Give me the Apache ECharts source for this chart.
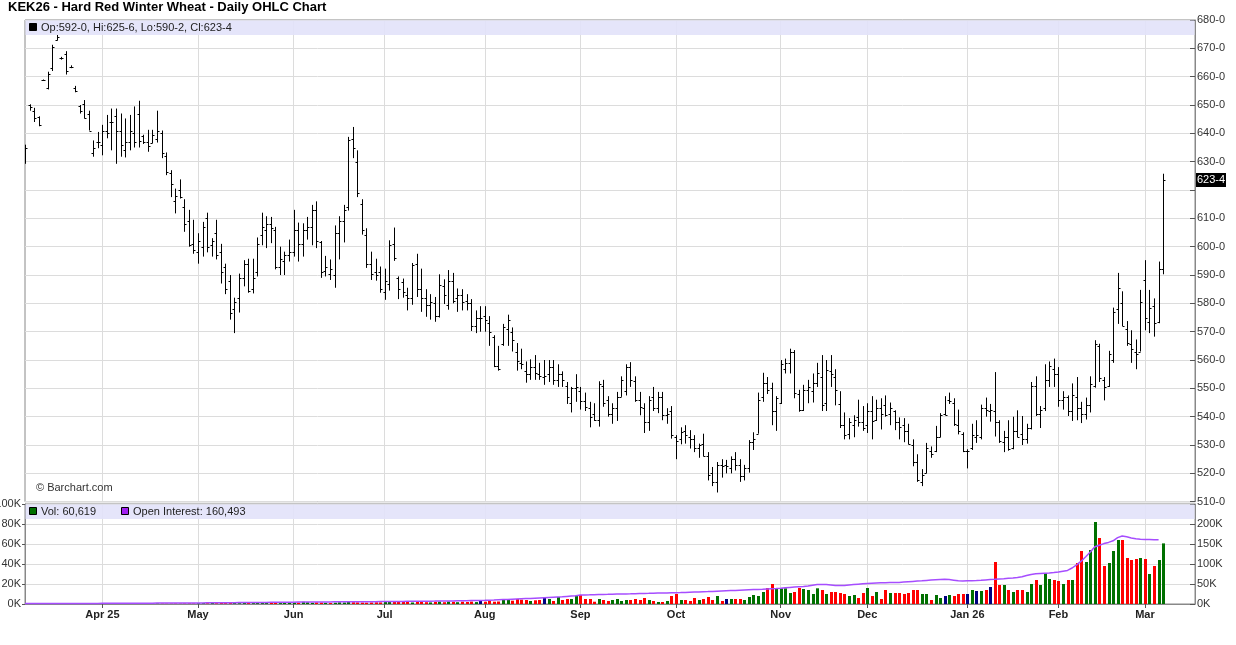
<!DOCTYPE html>
<html><head><meta charset="utf-8">
<script src="https://cdn.jsdelivr.net/npm/echarts@6/dist/echarts.min.js"></script>
<style>html,body{margin:0;padding:0;background:#fff}#c{width:1236px;height:645px}</style>
</head><body><div id="c"></div>
<script>
// ---- DATA (KEK26 Hard Red Winter Wheat, daily, cents) ----
const opens = [
631,650,648,645.75,658.75,656,663,673,666.5,668,
663.5,656,649.5,650.5,647,633,637,636,641,644,
646,641,634,637,640,647,639,637,636.5,638,
640,632,626,616,620,614,609,601,598,600,
610,600.5,605,598,593,588,578,582,589,594,
585,591,604,606,608,606,593,595,597,598,
606,601,606,607,613,601.5,591.5,590.5,590,605,
609,614,638,630,615,604,594,591,591,584,
587,601,589,587.5,583,582,594,585,582,579.5,
580,575.5,586,579.5,588,582,583,581,580,572,
575,575.5,573,568,558,565.5,571,570,563,559,
556,555,557.5,555,554,555,557.5,553,555,551,
545,550,549,545.5,543,541,539,551,546,541,
543,547,549,557.5,552.5,546,543,538,547,543,
547,540.5,542,533,532,535,533,532,529,530.5,
526,520,517,523,523,522,525,523,519,522,
531,534,547,552,550,542,545,557,559,563,
548,542.5,549.5,549,552,554,545,556,554,544.5,
537,534,537,540,538,537,542,539,543,544,
541,542,538,537,535,530,524,517,520,528,
528,533,541,546,545,537,534,528,529,533,
533,543,542,542,538,531,533,529,535,534,
532,536,551,541,543,553,557,555,546,547,
542,547,543,541,544,551,565,553,551,560,
578,580,571,565.75,563,563,588.25,573.5,579,573.5,
592];
const highs = [
636,650.25,649,646,659,661.75,671.25,674.75,667,669,
664,656.75,650,651.75,648,637.5,640.5,643,646.5,648.75,
648.75,647,645.25,646.5,649.5,651.5,639.5,641.25,641.25,648,
641,633.25,627,620.5,623.75,616.75,613,609.5,604.75,608.75,
612,603,609.5,601,594,590,582,590.5,595.25,595.75,
595.75,603.25,612,610.75,610.5,607,600,598.25,602.5,613,
608.5,608.25,610.5,614.75,616,602,596.75,595.5,607.5,610.75,
614.75,638.75,642.25,634,616.75,606.5,598.25,595.75,593,592.25,
602.25,606.75,589.5,588.75,585.5,594.25,597.5,592.25,585,583.25,
582.25,590.25,588.5,591.75,590.75,585.25,585,583.25,581.5,577.5,
579,579,575.5,568.75,565,572.75,576,571.5,566,564,
559.5,560.25,561.75,559,560,560,560,558.5,556,552.25,
550.5,555,550.5,548.5,545.25,544.75,552.5,553,547.25,544.75,
548.75,554.25,558.5,559.25,554.25,548.75,544.75,547.25,550.5,548.75,
548.75,543,543.75,533.5,536.25,537,535.25,533.5,530.5,534,
527.5,522.25,524,525,524.75,526,527.5,525,523,531.75,
534.5,548.5,555.5,554,552,547.25,560,560.5,564,563.5,
549.5,551.25,553,555.25,559,561.75,560,561.75,556.75,549,
541.5,539.5,540.5,546,543.75,544.75,547.25,546,546.5,547.5,
545,542.25,539.75,539.5,537.5,532,526.75,521.5,530.75,529.5,
536.75,541.25,547.25,548.5,546.5,542.5,534.5,528.5,537.5,538.75,
544.25,546.75,544.5,555.75,538.75,535,538.75,540,542.25,540.25,
537.5,552.25,554.25,543.75,558.5,559.5,560.5,557.5,549,547.5,
551.75,554,545.25,546.75,554.25,567,565.75,554,563.25,578.5,
590.75,584.25,573.75,570.5,567.25,584.75,595.25,584.75,581.75,594.75,
625.75];
const lows = [
629.25,648,644,642.5,658.5,655.5,662,672.75,666,660.75,
663,654.5,647,645.25,641,631.75,634.75,632.25,638.25,634,
629.25,631.75,631.5,634,635,635,636.25,633.5,636.5,636.75,
631.25,625.25,617.5,611.75,617,605.25,600,597.5,594,596.5,
598,596.5,595.5,587,583.25,574.25,569.5,576.75,586,583.75,
583.5,589.5,600.5,599.5,601.25,592,590,590,594.75,596.5,
594.75,596.5,602.5,600.5,599.5,589,589.5,588.25,585.5,595.5,
601.5,612.75,631.25,617.5,604.25,592.5,588.25,588,583.75,581.25,
584.5,595,581.5,582,577.5,579.5,582.25,577,575.25,574.25,
573.5,575,579.75,577.75,580,577,577.5,577.5,570.25,569.5,
570,570,565,557.5,556.25,565,565,563,556.25,556.75,
552,553,553,553,551.25,552.25,551.25,550.5,550.5,544.5,
541.5,545.25,542.5,542,536.25,538.5,536.5,543.5,540,537.5,
538.5,547,547.5,550.5,545.25,540.5,534.25,535,542,541.25,
538.75,537.5,532.25,525,530.25,530.5,528.75,527.5,525.5,526,
517.5,515.5,513.25,518.5,520,520,521,517,517.5,520.25,
528.25,534,545.25,548,537,535,544.5,555.25,555.25,546.5,
541.75,542,544.75,545,550.5,542,542,550.5,544,536,
532,532,532.75,536.5,535,534.25,532,538.5,535.5,540,
537,535.25,532,531,530.25,522.5,517,515.5,520,525.5,
527.5,532.75,540.5,544.5,536.75,533.75,527.5,521.75,528.25,530.75,
532,540,538.25,533,530.75,527.5,528,528.5,532.75,530,
530.5,535.5,540.25,536,542,550.5,550.5,543.5,542.5,540.25,
538.5,538.75,537.75,539,541.5,550.25,552.25,545.75,550.5,559,
572.75,572,565,559,556.75,563,570.5,569.5,568.25,573,
590.25];
const closes = [
634.75,649.25,645.5,643,658.75,661,670.5,674,666.5,662,
663.5,655,647.75,645.5,641,635,637,641,640,644,
641,636,637,641,637,637.25,637,635.5,639.5,641,
633,626.5,622,618,617.5,608,600.5,599,602,607,
600,602,597,591,585,576.5,580.5,589,594,584.5,
589,601,607,608,606.5,593,595.5,597,598,606,
601,606,607,613,602,591,593,592,605,609,
613,637.5,635,619,606,594,590.5,590,585,588,
600.5,596,585,584,582,593.5,585,582,579.5,580.5,
575.5,586.5,583,588,581,583,580.5,580,572,575,
575,574,570,558,557,571.5,574,567,559.5,558.5,
555,557.5,555.5,554.5,554.5,557.5,553,555,553,547,
550,550.5,545.5,543.5,540,539,551.5,545,541,543,
547,553,557.5,553,546,543.5,538,546,543,547,
540.5,541,533.5,531.5,534.5,533.5,532,529,530,526,
519.5,517,523,522.5,522.5,525,523,519,522,531,
532,546,552,549.5,542,546.5,558.5,559,563,548.5,
542.5,549.5,550.5,551.75,555.25,544,556.5,555,549.5,537,
533.5,538,539,538,536,542,538.5,543,541,540.5,
543,538,536.5,535,530.5,524,517.5,519.5,529,527,
533,540.5,540.5,545.5,537.5,535,528,528,533.5,533.5,
543,542.5,542.5,538,531.5,533,528.5,535,533,532,
536,551,541,542.5,553,558,555,546,547,542,
547.5,543,541,544,551.5,565.5,553.5,550.5,562,577,
585.25,572,566,564,562.25,580.5,574.75,578.25,573,592.25,
623.5];
// volume, thousands of contracts
const volumeK = [
0.2,0.1,0.2,0.1,0.1,0.3,0.2,0.1,0.1,0.2,
0.1,0.2,0.3,0.2,0.2,0.3,0.2,0.3,0.2,0.3,
0.4,0.3,0.2,0.3,0.4,0.3,0.3,0.4,0.3,0.5,
0.4,0.3,0.4,0.5,0.4,0.5,0.6,0.5,0.8,0.9,
0.7,1.0,0.8,1.1,0.9,1.2,1.0,0.8,1.1,1.0,
0.9,1.3,1.1,1.0,1.2,1.4,0.9,1.1,1.2,1.5,
1.3,2.2,1.8,1.2,1.6,1.4,1.2,1.0,1.3,1.7,
1.5,2.0,1.8,1.6,1.4,1.3,1.5,1.7,1.6,2.8,
2.4,2.3,2.0,2.0,2.3,1.5,2.0,2.2,1.8,1.6,
2.2,2.4,1.8,2.5,2.2,1.8,2.3,2.0,2.4,1.9,
3.0,2.3,3.0,2.3,2.5,4.0,4.3,3.3,5.0,4.3,
4.0,3.0,3.7,4.0,6.3,5.0,3.0,7.0,4.0,5.0,
5.0,8.3,9.0,5.0,5.0,2.3,5.0,4.0,3.0,4.0,
5.0,3.0,4.0,4.0,5.0,4.0,6.0,4.0,3.0,2.0,
2.0,3.0,8.0,10.0,4.0,4.0,3.0,6.0,4.0,5.0,
7.0,4.0,8.0,3.0,5.0,5.0,5.0,5.0,4.0,7.0,
9.0,8.0,12.0,16.0,20.0,15.7,15.7,15.7,11.0,12.0,
16.0,15,14,10,15.7,14,10,12,12,11,
10,8,9,6,11,16,8,12,5,14,
11,11,11,10,11,14,14,10,10,4,
9,6,8,9,8,10,10,10,14,13,
13,14,17,42,19,19,14,12,14,14,
12,20,24,19,31,25,24,23,20,24,
24,41,53,42,54,82,66,38,41,53,
64,64,46,44,45,46,45,30,38,44,
60.619];
// open interest, thousands of contracts
const openInterestK = [
1.0,1.0,1.0,1.1,1.1,1.2,1.2,1.2,1.3,1.3,1.3,1.4,1.4,1.4,1.5,1.5,1.5,
1.6,1.6,1.7,1.7,1.8,1.8,1.9,1.9,2.0,2.0,2.1,2.1,2.2,2.2,2.3,2.3,2.4,2.4,2.5,2.5,2.6,
2.7,2.8,2.9,3.0,3.0,3.1,3.2,3.3,3.4,3.5,3.5,3.6,3.7,3.8,3.9,4.0,4.1,4.2,4.3,4.4,4.5,
4.6,4.7,4.8,4.9,5.0,5.0,5.1,5.2,5.3,5.4,5.4,5.5,5.5,5.6,5.7,5.7,5.8,5.9,5.9,6.0,
6.1,6.2,6.3,6.4,6.5,6.6,6.7,6.8,6.9,7.0,7.1,7.2,7.4,7.5,7.7,7.8,8.0,8.2,8.4,8.6,8.8,9.0,
9.2,9.6,10.0,10.5,11.0,11.5,12.0,12.5,13.0,13.5,14.0,14.6,15.2,15.8,16.4,17.0,17.6,18.2,19.0,19.8,20.6,
22.5,22.8,23.0,23.3,23.6,23.9,24.1,24.4,24.7,25.0,25.3,25.5,25.8,26.1,26.4,26.6,26.9,27.2,27.5,27.7,28.0,
28.3,28.6,29.0,29.4,29.8,30.2,30.6,31.0,31.5,32.0,32.5,33.0,33.5,34.0,34.5,35.0,35.5,36.0,36.5,37.0,37.6,38.2,38.8,
39.5,40.5,41.5,42.5,43.0,43.5,45.0,47.0,48.5,49.0,48.5,47.5,46.5,46.0,46.5,47.5,48.5,49.5,50.5,
51.5,52.0,52.5,53.0,53.3,53.6,53.8,54.0,54.8,55.6,56.4,57.2,58.0,59.0,60.0,60.8,61.5,61.7,61.0,59.5,58.0,57.5,
58.0,58.3,58.8,59.5,60.3,61.0,61.7,62.5,63.3,64.2,65.0,66.0,68.0,71.0,74.0,75.5,76.5,77.0,77.5,78.5,
80,82,84,90,98,107,118,130,143,147,151,154,158,166,170,168,165,163,162,
161.5,161,160.5,160.493,null];
const monthKeys   = ['2025-04','2025-05','2025-06','2025-07','2025-08','2025-09','2025-10','2025-11','2025-12','2026-01','2026-02','2026-03'];
const monthLabels = ['Apr 25','May','Jun','Jul','Aug','Sep','Oct','Nov','Dec','Jan 26','Feb','Mar'];
const holidays = ['2025-04-18','2025-05-26','2025-06-19','2025-07-04','2025-09-01','2025-11-27','2025-12-25','2026-01-01','2026-01-19','2026-02-16'];
const firstDay = '2025-03-07', lastDay = '2026-03-06';
const titleText = 'KEK26 - Hard Red Winter Wheat - Daily OHLC Chart';

// ---- build categories (trading days) ----
const dates = [];
{
  let t = Date.parse(firstDay + 'T00:00:00Z'); const end = Date.parse(lastDay + 'T00:00:00Z');
  while (t <= end) {
    const d = new Date(t); const wd = d.getUTCDay(); const s = d.toISOString().slice(0, 10);
    if (wd !== 0 && wd !== 6 && holidays.indexOf(s) < 0) dates.push(s);
    t += 86400000;
  }
}
const PAD = 7;
const cats = dates.slice();
for (let i = 0; i < PAD; i++) cats.push('pad' + i);
const isStart = cats.map((v, i) => i > 0 && i < dates.length && v.slice(0, 7) !== cats[i - 1].slice(0, 7));
const monthInterval = (idx) => !!isStart[idx];

const fmtPrice = v => { const f = Math.floor(v + 1e-9); return f + '-' + Math.round((v - f) * 8); };
const n = closes.length;
const lastClose = closes[n - 1];
const ohlc = closes.map((c, i) => [i, opens[i], highs[i], lows[i], c]);
const UP = '#007000', DN = '#ff0000', EQ = '#000080';
const volColor = volumeK.map((v, i) => i === 0 ? UP : (closes[i] > closes[i - 1] ? UP : (closes[i] < closes[i - 1] ? DN : EQ)));
const volData = volumeK.map((v, i) => [i, v]);

const FONT = 'Liberation Sans, Arial, sans-serif';
const GRIDC = '#dcdcdc';
const chart = echarts.init(document.getElementById('c'), null, { renderer: 'canvas' });

const fmtInt = x => Math.round(x * 1000).toString().replace(/\B(?=(\d{3})+(?!\d))/g, ',');

chart.setOption({
  animation: false,
  textStyle: { fontFamily: FONT },
  grid: [
    { left: 25, top: 20, width: 1170, height: 481.7, show: true, borderColor: '#888', borderWidth: 1, backgroundColor: 'transparent', containLabel: false, outerBoundsMode: 'none' },
    { left: 25, top: 504, width: 1170, height: 100, show: true, borderColor: '#888', borderWidth: 1, backgroundColor: 'transparent', containLabel: false, outerBoundsMode: 'none' }
  ],
  xAxis: [
    { type: 'category', gridIndex: 0, data: cats, boundaryGap: false,
      axisLine: { show: false }, axisTick: { show: false }, axisLabel: { show: false },
      splitLine: { show: true, interval: monthInterval, lineStyle: { color: GRIDC, width: 1 } } },
    { type: 'category', gridIndex: 1, data: cats, boundaryGap: false,
      axisLine: { show: true, lineStyle: { color: '#888' } },
      axisTick: { show: true, interval: monthInterval, length: 4, lineStyle: { color: '#555' } },
      axisLabel: { show: true, interval: monthInterval, margin: 5, fontSize: 11, fontWeight: 'bold', color: '#222', fontFamily: FONT,
        formatter: (v) => { const k = monthKeys.indexOf(String(v).slice(0, 7)); return k >= 0 ? monthLabels[k] : ''; } },
      splitLine: { show: true, interval: monthInterval, lineStyle: { color: GRIDC, width: 1 } } }
  ],
  yAxis: [
    { type: 'value', gridIndex: 0, position: 'right', min: 510, max: 680, interval: 10,
      axisLine: { show: true, lineStyle: { color: '#888' } },
      axisTick: { show: true, inside: true, length: 5, lineStyle: { color: '#555' } },
      axisLabel: { margin: 2, fontSize: 11, color: '#333', fontFamily: FONT,
        formatter: v => (Math.abs(v - lastClose) < 6 ? '' : fmtPrice(v)) },
      splitLine: { show: true, lineStyle: { color: GRIDC, width: 1 } } },
    { type: 'value', gridIndex: 1, position: 'left', min: 0, max: 100, interval: 20,
      axisLine: { show: true, lineStyle: { color: '#888' } },
      axisTick: { show: true, length: 3, lineStyle: { color: '#555' } },
      axisLabel: { margin: 4, fontSize: 11, color: '#333', fontFamily: FONT, formatter: v => v + 'K' },
      splitLine: { show: true, lineStyle: { color: GRIDC, width: 1 } } },
    { type: 'value', gridIndex: 1, position: 'right', min: 0, max: 250, interval: 50,
      axisLine: { show: true, lineStyle: { color: '#888' } },
      axisTick: { show: true, inside: true, length: 5, lineStyle: { color: '#555' } },
      axisLabel: { margin: 2, fontSize: 11, color: '#333', fontFamily: FONT, formatter: v => (v >= 250 ? '' : v + 'K') },
      splitLine: { show: false } }
  ],
  series: [
    { type: 'custom', name: 'OHLC', xAxisIndex: 0, yAxisIndex: 0, data: ohlc, clip: true,
      encode: { x: 0, y: [1, 2, 3, 4] },
      renderItem: function (params, api) {
        const i = api.value(0);
        const pH = api.coord([i, api.value(2)]), pL = api.coord([i, api.value(3)]);
        const pO = api.coord([i, api.value(1)]), pC = api.coord([i, api.value(4)]);
        const x = Math.round(pH[0]) + 0.5;
        const st = { stroke: '#000', lineWidth: 1 };
        let y1 = pH[1], y2 = pL[1];
        if (y2 - y1 < 1) { y1 -= 0.5; y2 += 0.5; }
        return { type: 'group', children: [
          { type: 'line', shape: { x1: x, y1: y1, x2: x, y2: y2 }, style: st },
          { type: 'line', shape: { x1: x - 2, y1: Math.round(pO[1]) + 0.5, x2: x, y2: Math.round(pO[1]) + 0.5 }, style: st },
          { type: 'line', shape: { x1: x, y1: Math.round(pC[1]) + 0.5, x2: x + 2, y2: Math.round(pC[1]) + 0.5 }, style: st }
        ] };
      } },
    { type: 'custom', name: 'Vol', xAxisIndex: 1, yAxisIndex: 1, data: volData, clip: true, z: 2,
      encode: { x: 0, y: 1 },
      renderItem: function (params, api) {
        const i = api.value(0);
        const top = api.coord([i, api.value(1)]), base = api.coord([i, 0]);
        const x = Math.round(top[0]) - 1;
        return { type: 'rect', shape: { x: x, y: top[1], width: 3, height: base[1] - top[1] },
          style: { fill: volColor[i] } };
      } },
    { type: 'line', name: 'Open Interest', xAxisIndex: 1, yAxisIndex: 2, data: openInterestK,
      showSymbol: false, symbol: 'none', z: 3, lineStyle: { color: '#a64dff', width: 1.5 } }
  ],
  graphic: [
    { id: 'title', type: 'text', left: 8, top: 1, z: 10,
      style: { text: titleText, fill: '#000', font: 'bold 13px ' + FONT } },
    { id: 'band1', type: 'rect', z: 5, shape: { x: 25.5, y: 20.5, width: 1169, height: 14.5 }, style: { fill: 'rgba(226,226,250,0.9)' } },
    { id: 'sq1', type: 'rect', z: 6, shape: { x: 29.5, y: 23.5, width: 7, height: 7 }, style: { fill: '#000', stroke: '#000' } },
    { id: 'leg1', type: 'text', z: 6, x: 41, y: 27.5,
      style: { text: 'Op:' + fmtPrice(opens[n - 1]) + ', Hi:' + fmtPrice(highs[n - 1]) + ', Lo:' + fmtPrice(lows[n - 1]) + ', Cl:' + fmtPrice(closes[n - 1]),
        fill: '#222', font: '11px ' + FONT, verticalAlign: 'middle' } },
    { id: 'band2', type: 'rect', z: 5, shape: { x: 25.5, y: 504.5, width: 1169, height: 14.5 }, style: { fill: 'rgba(226,226,250,0.9)' } },
    { id: 'sq2', type: 'rect', z: 6, shape: { x: 29.5, y: 507.5, width: 7, height: 7 }, style: { fill: UP, stroke: '#000' } },
    { id: 'leg2', type: 'text', z: 6, x: 41, y: 511.5,
      style: { text: 'Vol: ' + fmtInt(volumeK[n - 1]), fill: '#222', font: '11px ' + FONT, verticalAlign: 'middle' } },
    { id: 'sq3', type: 'rect', z: 6, shape: { x: 121.5, y: 507.5, width: 7, height: 7 }, style: { fill: '#a020f0', stroke: '#000' } },
    { id: 'leg3', type: 'text', z: 6, x: 133, y: 511.5,
      style: { text: 'Open Interest: ' + fmtInt(openInterestK[n - 2]), fill: '#222', font: '11px ' + FONT, verticalAlign: 'middle' } },
    { id: 'copy', type: 'text', z: 6, x: 36, y: 488,
      style: { text: '\u00A9 Barchart.com', fill: '#333', font: '11px ' + FONT, verticalAlign: 'middle' } }
  ]
});

const yLast = chart.convertToPixel({ yAxisIndex: 0 }, lastClose);
chart.setOption({ graphic: [
  { id: 'lastBox', type: 'rect', z: 12, shape: { x: 1196, y: Math.round(yLast) - 7, width: 30, height: 14 }, style: { fill: '#000' } },
  { id: 'lastTxt', type: 'text', z: 13, x: 1197, y: Math.round(yLast),
    style: { text: fmtPrice(lastClose), fill: '#fff', font: '11px ' + FONT, verticalAlign: 'middle' } }
] });
</script>
</body></html>
